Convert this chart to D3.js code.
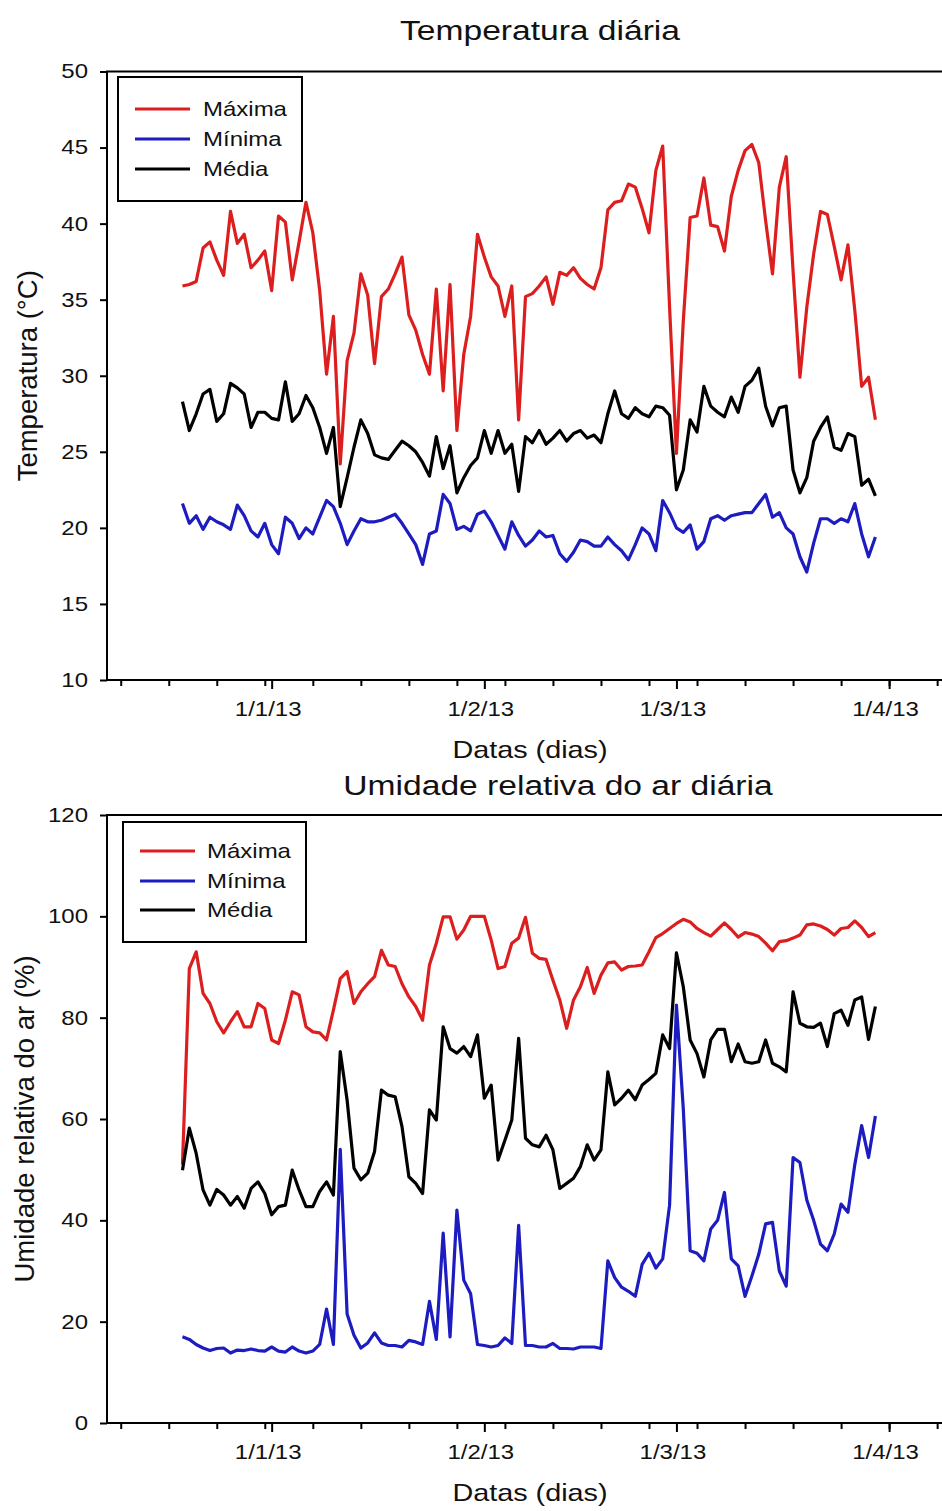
<!DOCTYPE html>
<html>
<head>
<meta charset="utf-8">
<script src="https://cdn.jsdelivr.net/npm/d3@7"></script>
<style>
  body { margin: 0; background: #fff; }
  svg { display: block; }
  text { font-family: "Liberation Sans", Arial, sans-serif; fill: #111; }
</style>
</head>
<body>
<svg id="chart" width="942" height="1511"></svg>
<script>
// Daily records, 19/12/2012 to 30/03/2013
const days = d3.timeDay.range(new Date(2012, 11, 19), new Date(2013, 2, 31));

const seriesNames = ["Máxima", "Mínima", "Média"];
const seriesColors = ["#dc1e1e", "#1c1cc0", "#000000"];

// Temperature (°C)
const tempMax = [35.9,36.0,36.2,38.4,38.8,37.6,36.6,40.8,38.7,39.3,37.1,37.6,38.2,35.6,40.5,40.1,36.3,38.8,41.4,39.4,
  35.6,30.1,33.9,24.2,31.0,32.8,36.7,35.3,30.8,35.2,35.7,36.7,37.8,34.0,33.0,31.4,30.1,35.7,29.0,36.0,
  26.4,31.4,33.9,39.3,37.8,36.5,35.9,33.9,35.9,27.1,35.2,35.4,35.9,36.5,34.7,36.8,36.6,37.1,36.4,36.0,
  35.7,37.1,40.9,41.4,41.5,42.6,42.4,41.0,39.4,43.5,45.1,34.5,24.9,33.6,40.4,40.5,43.0,39.9,39.8,38.2,
  41.8,43.5,44.8,45.2,44.0,40.2,36.7,42.4,44.4,36.9,29.9,34.5,38.0,40.8,40.6,38.5,36.3,38.6,34.3,29.3,
  29.9,27.1];
const tempMin = [21.6,20.3,20.8,19.9,20.7,20.4,20.2,19.9,21.5,20.8,19.8,19.4,20.3,18.9,18.3,20.7,20.3,19.3,20.0,19.6,
  20.7,21.8,21.4,20.3,18.9,19.8,20.6,20.4,20.4,20.5,20.7,20.9,20.3,19.6,18.9,17.6,19.6,19.8,22.2,21.6,
  19.9,20.1,19.8,20.9,21.1,20.4,19.5,18.6,20.4,19.5,18.8,19.2,19.8,19.4,19.5,18.3,17.8,18.4,19.2,19.1,
  18.8,18.8,19.4,18.9,18.5,17.9,18.9,20.0,19.6,18.5,21.8,21.0,20.0,19.7,20.2,18.6,19.1,20.6,20.8,20.5,
  20.8,20.9,21.0,21.0,21.6,22.2,20.7,21.0,20.0,19.6,18.1,17.1,19.0,20.6,20.6,20.3,20.6,20.4,21.6,19.6,
  18.1,19.4];
const tempMed = [28.3,26.4,27.5,28.8,29.1,27.0,27.5,29.5,29.2,28.8,26.6,27.6,27.6,27.2,27.1,29.6,27.0,27.5,28.7,27.9,
  26.6,24.9,26.6,21.4,23.3,25.3,27.1,26.2,24.8,24.6,24.5,25.1,25.7,25.4,25.0,24.3,23.4,26.0,23.9,25.4,
  22.3,23.3,24.1,24.6,26.4,24.9,26.4,24.9,25.5,22.4,26.0,25.6,26.4,25.5,25.9,26.4,25.7,26.2,26.4,25.9,
  26.1,25.6,27.5,29.0,27.5,27.2,27.9,27.5,27.3,28.0,27.9,27.4,22.5,23.8,27.1,26.3,29.3,28.0,27.6,27.3,
  28.6,27.6,29.3,29.7,30.5,28.0,26.7,27.9,28.0,23.8,22.3,23.3,25.7,26.6,27.3,25.3,25.1,26.2,26.0,22.8,
  23.2,22.1];

// Relative humidity (%)
const humMax = [51.0,89.7,93.0,84.8,82.8,79.2,77.0,79.2,81.2,78.2,78.2,82.8,81.8,75.6,74.9,79.5,85.1,84.5,78.2,77.2,
  77.0,75.6,81.5,87.7,89.1,82.8,85.1,86.7,88.1,93.3,90.4,90.1,86.7,84.1,82.2,79.5,90.4,94.7,99.9,99.9,
  95.5,97.3,100,100,100,95.3,89.7,90.1,94.7,95.7,99.8,92.7,91.7,91.5,87.4,83.5,77.9,83.5,86.1,89.9,
  84.8,88.4,90.8,91.0,89.4,90.1,90.2,90.4,93.0,95.8,96.6,97.6,98.6,99.4,98.9,97.6,96.8,96.1,97.4,98.7,
  97.4,95.9,96.8,96.5,96.0,94.7,93.2,95.0,95.2,95.7,96.3,98.3,98.5,98.1,97.4,96.3,97.6,97.8,99.1,97.8,
  96.0,96.8];
const humMin = [17.0,16.5,15.5,14.8,14.3,14.7,14.8,13.8,14.4,14.3,14.6,14.3,14.2,15.0,14.2,14.0,15.0,14.2,13.8,14.2,
  15.5,22.5,15.5,54.0,21.5,17.3,14.8,15.8,17.8,15.8,15.3,15.3,15.0,16.3,16.0,15.5,24.0,16.5,37.5,17.0,
  42.0,28.2,25.5,15.5,15.3,15.0,15.3,16.8,15.7,39.0,15.3,15.3,15.0,15.0,15.7,14.7,14.7,14.6,15.0,15.0,
  15.0,14.7,32.0,28.7,26.8,26.0,25.0,31.3,33.5,30.6,32.4,43.0,82.5,62.0,34.0,33.5,32.0,38.3,40.0,45.5,
  32.4,31.0,25.0,29.0,33.3,39.3,39.6,30.0,27.0,52.4,51.4,44.0,40.0,35.3,34.0,37.3,43.2,41.6,51.0,58.7,
  52.4,60.6];
const humMed = [49.9,58.2,53.2,46.0,43.0,46.1,45.0,43.0,44.7,42.4,46.3,47.6,45.3,41.1,42.7,43.0,49.9,46.0,42.7,42.7,
  45.7,47.6,45.0,73.3,63.7,50.3,48.0,49.3,53.6,65.7,64.7,64.4,58.5,48.6,47.3,45.3,61.8,59.8,78.2,73.9,
  73.0,74.3,72.3,76.6,64.1,66.7,51.9,55.8,59.8,75.9,56.2,54.9,54.5,56.8,53.9,46.3,47.3,48.3,50.6,54.9,
  51.9,53.9,69.3,62.8,64.1,65.7,63.8,66.7,67.8,69.0,76.6,73.9,92.8,86.1,75.6,72.9,68.3,75.6,77.7,77.7,
  71.3,74.8,71.3,71.0,71.3,75.6,71.0,70.3,69.3,85.1,78.9,78.2,78.1,78.9,74.3,80.8,81.5,78.5,83.5,84.1,
  75.7,82.2];

// Axis ticks
const tempTicks = [10, 15, 20, 25, 30, 35, 40, 45, 50];
const humTicks = [0, 20, 40, 60, 80, 100, 120];
const monthTicks = [new Date(2013, 0, 1), new Date(2013, 1, 1), new Date(2013, 2, 1), new Date(2013, 3, 1)];
const monthLabels = ["1/1/13", "1/2/13", "1/3/13", "1/4/13"];

// Horizontal glyph widening used for all upright labels
const WIDE = 1.2;

const svg = d3.select("#chart");

const x = d3.scaleTime()
  .domain([new Date(2012, 11, 8), new Date(2013, 3, 9)])
  .range([107, 944]);

// Put a text's anchor into a transform so it can be widened around that point
function widen(sel, sx) {
  sel.each(function () {
    const t = d3.select(this);
    const tx = +t.attr("x") || 0;
    const ty = +t.attr("y") || 0;
    t.attr("x", 0).attr("y", 0)
      .attr("transform", `translate(${tx},${ty}) scale(${sx},1)`);
  });
}

const panels = [
  {
    title: "Temperatura diária", titleX: 540, titleY: 40,
    yLabel: "Temperatura (°C)", yLabelX: 27,
    top: 71.5, bottom: 680, domain: [10, 50], ticks: tempTicks,
    series: [tempMax, tempMin, tempMed],
    legend: { x0: 118, y0: 77, x1: 302, y1: 201, rows: [109, 139, 169], lineX: [135, 190], textX: 203 }
  },
  {
    title: "Umidade relativa do ar diária", titleX: 558, titleY: 795,
    yLabel: "Umidade relativa do ar (%)", yLabelX: 24,
    top: 815, bottom: 1423, domain: [0, 120], ticks: humTicks,
    series: [humMax, humMin, humMed],
    legend: { x0: 123, y0: 822, x1: 306, y1: 942, rows: [851, 881, 910], lineX: [140, 195], textX: 207 }
  }
];

panels.forEach(p => {
  const y = d3.scaleLinear().domain(p.domain).range([p.bottom, p.top]);
  const g = svg.append("g");

  // Frame
  g.append("rect")
    .attr("x", x.range()[0]).attr("y", p.top)
    .attr("width", x.range()[1] - x.range()[0]).attr("height", p.bottom - p.top)
    .attr("fill", "none").attr("stroke", "#000").attr("stroke-width", 2);

  // Y axis
  const yAxis = g.append("g")
    .attr("transform", `translate(${x.range()[0]},0)`)
    .call(d3.axisLeft(y).tickValues(p.ticks).tickSize(7).tickPadding(12).tickFormat(d3.format("d")));
  yAxis.select(".domain").remove();
  yAxis.selectAll("line").attr("stroke", "#000").attr("stroke-width", 2);
  yAxis.selectAll("text").attr("font-size", 20).attr("fill", "#111").call(widen, WIDE);

  // X axis: weekly minor ticks
  const xMinor = g.append("g")
    .attr("transform", `translate(0,${p.bottom})`)
    .call(d3.axisBottom(x).ticks(d3.timeMonday.every(1)).tickSize(6).tickFormat(""));
  xMinor.select(".domain").remove();
  xMinor.selectAll("line").attr("stroke", "#000").attr("stroke-width", 2);

  // X axis: month ticks with labels
  const xMajor = g.append("g")
    .attr("transform", `translate(0,${p.bottom})`)
    .call(d3.axisBottom(x).tickValues(monthTicks).tickSize(9).tickPadding(13)
      .tickFormat((d, i) => monthLabels[i]));
  xMajor.select(".domain").remove();
  xMajor.selectAll("line").attr("stroke", "#000").attr("stroke-width", 2);
  xMajor.selectAll("text").attr("font-size", 20).attr("fill", "#111")
    .attr("x", -4).call(widen, WIDE);

  // Titles
  g.append("text").attr("x", p.titleX).attr("y", p.titleY)
    .attr("text-anchor", "middle").attr("font-size", 28).text(p.title).call(widen, WIDE);
  g.append("text").attr("x", 530).attr("y", p.bottom + 78)
    .attr("text-anchor", "middle").attr("font-size", 24).text("Datas (dias)").call(widen, WIDE);
  g.append("text")
    .attr("transform", `translate(${p.yLabelX},${(p.top + p.bottom) / 2}) rotate(-90)`)
    .attr("text-anchor", "middle").attr("dy", "0.35em").attr("font-size", 27.5).text(p.yLabel);

  // Series lines
  const line = d3.line().x((d, i) => x(days[i])).y(d => y(d));
  p.series.forEach((s, k) => {
    g.append("path").datum(s)
      .attr("d", line)
      .attr("fill", "none")
      .attr("stroke", seriesColors[k])
      .attr("stroke-width", 3.2)
      .attr("stroke-linejoin", "round");
  });

  // Legend
  const L = p.legend;
  g.append("rect").attr("x", L.x0).attr("y", L.y0)
    .attr("width", L.x1 - L.x0).attr("height", L.y1 - L.y0)
    .attr("fill", "#fff").attr("stroke", "#000").attr("stroke-width", 2);
  seriesNames.forEach((name, k) => {
    g.append("line").attr("x1", L.lineX[0]).attr("x2", L.lineX[1])
      .attr("y1", L.rows[k]).attr("y2", L.rows[k])
      .attr("stroke", seriesColors[k]).attr("stroke-width", 3.2);
    g.append("text").attr("x", L.textX).attr("y", L.rows[k] + 7)
      .attr("font-size", 20).text(name).call(widen, WIDE);
  });
});
</script>
</body>
</html>
